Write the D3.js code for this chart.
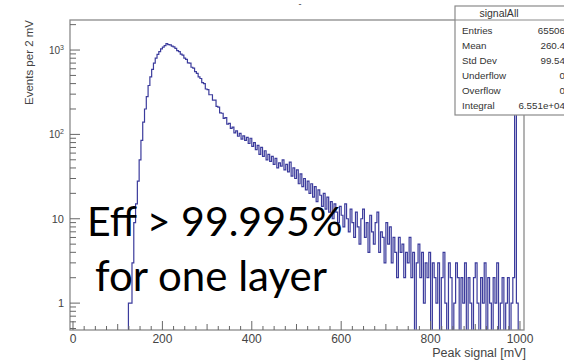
<!DOCTYPE html>
<html><head><meta charset="utf-8">
<script src="https://cdn.jsdelivr.net/npm/d3@7"></script>
<style>
html,body{margin:0;padding:0;background:#fff;}
svg{display:block;}
</style></head>
<body>
<svg id="c" width="564" height="363"></svg>
<script>
// ---- data ----
const binLow = 120;       // first bin lower edge [mV]
const binWidth = 4;       // drawn bin width [mV]
// events per 2 mV, one value per drawn bin starting at binLow
const counts = [
  0,1,1,3,9,15,28,50,85,140,200,280,380,480,590,700,800,890,960,1030,
  1080,1130,1190,1160,1150,1110,1090,1045,985,955,895,870,800,775,705,700,625,610,555,530,
  480,460,410,400,345,340,295,295,255,255,215,210,180,178,155,158,132,135,118,122,
  104,110,95,103,88,96,85,92,78,90,72,80,66,74,58,70,55,64,50,58,
  48,55,44,52,40,46,42,50,38,44,36,47,32,40,30,38,26,34,24,30,
  22,28,20,26,18,24,16,22,19,14,20,13,18,12,16,10,15,12,9,14,
  11,8,15,10,7,13,9,6,12,8,5,10,13,6,9,4,11,7,5,9,
  12,4,7,6,3,9,5,8,3,6,4,2,6,4,5,2,4,3,6,2,
  4,0,3,5,2,4,1,3,2,4,0,3,2,1,3,0,2,4,1,0,
  3,2,0,1,3,2,0,2,1,3,0,2,1,0,2,3,1,0,2,1,
  3,0,2,1,0,2,1,3,0,1,2,0,1,2,0,1,2,700,1,0
];
const xTicks = [0,200,400,600,800,1000];
const yTicks = [1,10,100,1000];
const yTickLabels = ["1","10","10|2","10|3"];
const statsTitle = "signalAll";
const statsNames = ["Entries","Mean","Std Dev","Underflow","Overflow","Integral"];
const statsValues = ["65506","260.4","99.54","0","0","6.551e+04"];
const xTitle = "Peak signal [mV]";
const yTitle = "Events per 2 mV";
const noteLines = ["Eff > 99.995%","for one layer"];

// ---- layout ----
const svg = d3.select("#c");
const L = 70, R = 524, T = 20, B = 330;
const x = d3.scaleLinear().domain([-6.7, 1009]).range([L, R]);
const y = d3.scaleLog().domain([0.48, 2270]).range([B, T]);
const axisFont = "'Liberation Sans', Arial, sans-serif";
const lineCol = "#3b3b9c";
const frameCol = "#8a8a8a";

// histogram
const bins = counts.map((c,i)=>({x0: binLow + i*binWidth, x1: binLow + (i+1)*binWidth, c}));
const yv = c => c > 0 ? y(c) : B + 2;
let d = `M${x(bins[0].x0)},${B+2}`;
bins.forEach(b => { d += `L${x(b.x0)},${yv(b.c)}L${x(b.x1)},${yv(b.c)}`; });
d += `L${x(bins[bins.length-1].x1)},${B+2}`;
svg.append("clipPath").attr("id","clip").append("rect")
  .attr("x",L).attr("y",T).attr("width",R-L).attr("height",B-T);
svg.append("path").attr("d",d).attr("fill","none").attr("stroke",lineCol)
  .attr("stroke-width",1.2).attr("clip-path","url(#clip)");

// frame
svg.append("rect").attr("x",L).attr("y",T).attr("width",R-L).attr("height",B-T)
  .attr("fill","none").attr("stroke",frameCol).attr("stroke-width",1.3);

// x axis ticks
const gx = svg.append("g").attr("stroke","#666").attr("stroke-width",1);
d3.range(0, 1001, 25).forEach(v=>{
  const len = v % 200 === 0 ? 9 : (v % 100 === 0 ? 6 : 4);
  gx.append("line").attr("x1",x(v)).attr("x2",x(v)).attr("y1",B).attr("y2",B-len);
});
svg.append("g").selectAll("text").data(xTicks).join("text")
  .attr("x",d=>x(d)).attr("y",B+13).attr("text-anchor","middle")
  .attr("font-family",axisFont).attr("font-size",12).attr("fill","#444").text(d=>d);
svg.append("text").attr("x",R+2).attr("y",B+27).attr("text-anchor","end")
  .attr("font-family",axisFont).attr("font-size",12.5).attr("fill","#444").text(xTitle);

// y axis ticks
const gy = svg.append("g").attr("stroke","#666").attr("stroke-width",1);
[0.1,1,10,100,1000].forEach(dec=>{
  for(let k=1;k<10;k++){
    const v = dec*k;
    if(v < 0.48 || v > 2270) continue;
    const len = k===1 ? 10 : 6;
    gy.append("line").attr("x1",L).attr("x2",L+len).attr("y1",y(v)).attr("y2",y(v));
  }
});
yTicks.forEach((v,i)=>{
  const parts = yTickLabels[i].split("|");
  const t = svg.append("text").attr("x",64).attr("y",y(v)+4).attr("text-anchor","end")
    .attr("font-family",axisFont).attr("fill","#444").attr("font-size",11);
  if(parts.length===1){ t.text(parts[0]); }
  else {
    t.attr("font-size",10);
    t.append("tspan").text(parts[0]);
    t.append("tspan").attr("dy",-4).attr("font-size",7).text(parts[1]);
  }
});
svg.append("text").attr("transform",`translate(33,${T}) rotate(-90)`)
  .attr("text-anchor","end").attr("font-family",axisFont).attr("font-size",11.5)
  .attr("fill","#444").text(yTitle);

// small title fragment at top
svg.append("text").attr("x",300).attr("y",7).attr("text-anchor","middle")
  .attr("font-family",axisFont).attr("font-size",9).attr("fill","#333").text("-");

// stats box
const bx = 455, by = 6, bw = 120, bh = 109;
svg.append("rect").attr("x",bx).attr("y",by).attr("width",bw).attr("height",bh)
  .attr("fill","#fff").attr("stroke",frameCol).attr("stroke-width",1.2);
svg.append("line").attr("x1",bx).attr("x2",bx+bw).attr("y1",20).attr("y2",20)
  .attr("stroke",frameCol).attr("stroke-width",1);
svg.append("text").attr("x",499).attr("y",17).attr("text-anchor","middle")
  .attr("font-family",axisFont).attr("font-size",10.5).attr("fill","#333").text(statsTitle);
statsNames.forEach((n,i)=>{
  svg.append("text").attr("x",462).attr("y",33.5+i*15).attr("font-family",axisFont)
    .attr("font-size",9.8).attr("fill","#333").text(n);
  svg.append("text").attr("x",565).attr("y",33.5+i*15).attr("text-anchor","end")
    .attr("font-family",axisFont).attr("font-size",9.8).attr("fill","#333").text(statsValues[i]);
});

// annotation
const noteFont = "Lato, 'Open Sans', sans-serif";
svg.append("text").attr("x",87).attr("y",236).attr("font-family",noteFont)
  .attr("font-size",41).attr("fill","#000").text(noteLines[0]);
svg.append("text").attr("x",95).attr("y",291).attr("font-family",noteFont)
  .attr("font-size",42).attr("fill","#000").text(noteLines[1]);
</script>
</body></html>
